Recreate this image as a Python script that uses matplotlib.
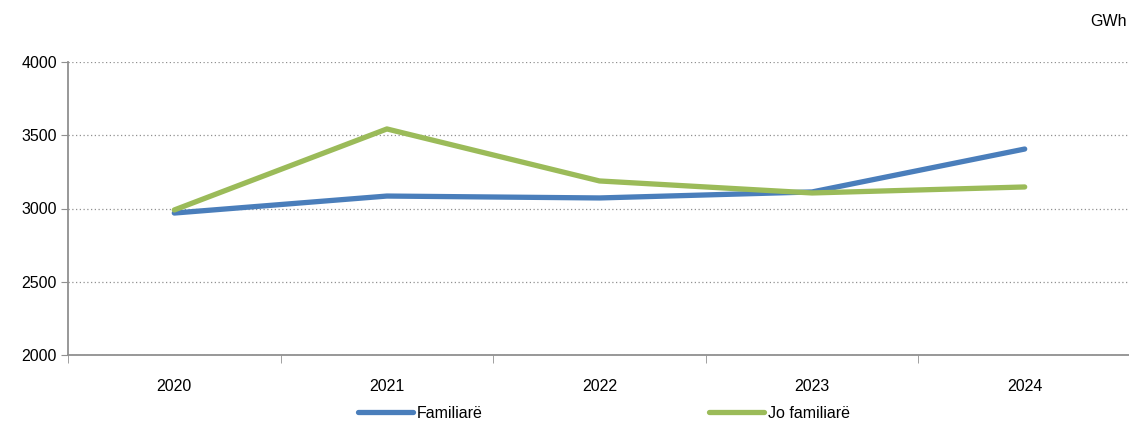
import numpy as np
import matplotlib
matplotlib.use("Agg")
import matplotlib.pyplot as plt

years = ["2020", "2021", "2022", "2023", "2024"]
familiare = [2969, 3085, 3072, 3113, 3406]
jo_familiare = [2990, 3543, 3188, 3106, 3147]

plt.rcParams["font.family"] = ["Liberation Sans", "DejaVu Sans"]
fs = 11.5

fig = plt.figure(figsize=(11.29, 4.26), dpi=100)
ax = fig.add_axes([68 / 1129, 71 / 426, (1131 - 68) / 1129, (355 - 62) / 426])

x = np.arange(len(years))
ax.plot(x, familiare, color="#4a7ebb", linewidth=3.8, solid_capstyle="round", label="Familiarë")
ax.plot(x, jo_familiare, color="#9bbb59", linewidth=3.8, solid_capstyle="round", label="Jo familiarë")

ax.set_xlim(-0.5, len(years) - 0.5)
ax.set_ylim(2000, 4000)
ax.set_yticks([2000, 2500, 3000, 3500, 4000])
ax.set_xticks(x)
ax.set_xticklabels(years)
ax.set_xticks(np.arange(-0.5, len(years), 1), minor=True)
ax.tick_params(axis="x", which="major", length=0, pad=17, labelsize=fs)
ax.tick_params(axis="x", which="minor", length=6, color="#909090", direction="out")
ax.tick_params(axis="y", length=5, color="#909090", labelsize=fs, pad=3)

ax.grid(axis="y", linestyle=(0, (1, 2)), color="#909090", linewidth=0.9)
for s in ["top", "right"]:
    ax.spines[s].set_visible(False)
for s in ["left", "bottom"]:
    ax.spines[s].set_color("#909090")
    ax.spines[s].set_linewidth(1.3)

fig.text(1127 / 1129, 1 - 22 / 426, "GWh", ha="right", va="center", fontsize=fs)

fig.legend(loc="center", bbox_to_anchor=(604 / 1129, 1 - 413 / 426), ncol=2,
           frameon=False, fontsize=fs, handlelength=3.4, handletextpad=0.25,
           columnspacing=14.2)

fig.savefig("out.png", dpi=100)
